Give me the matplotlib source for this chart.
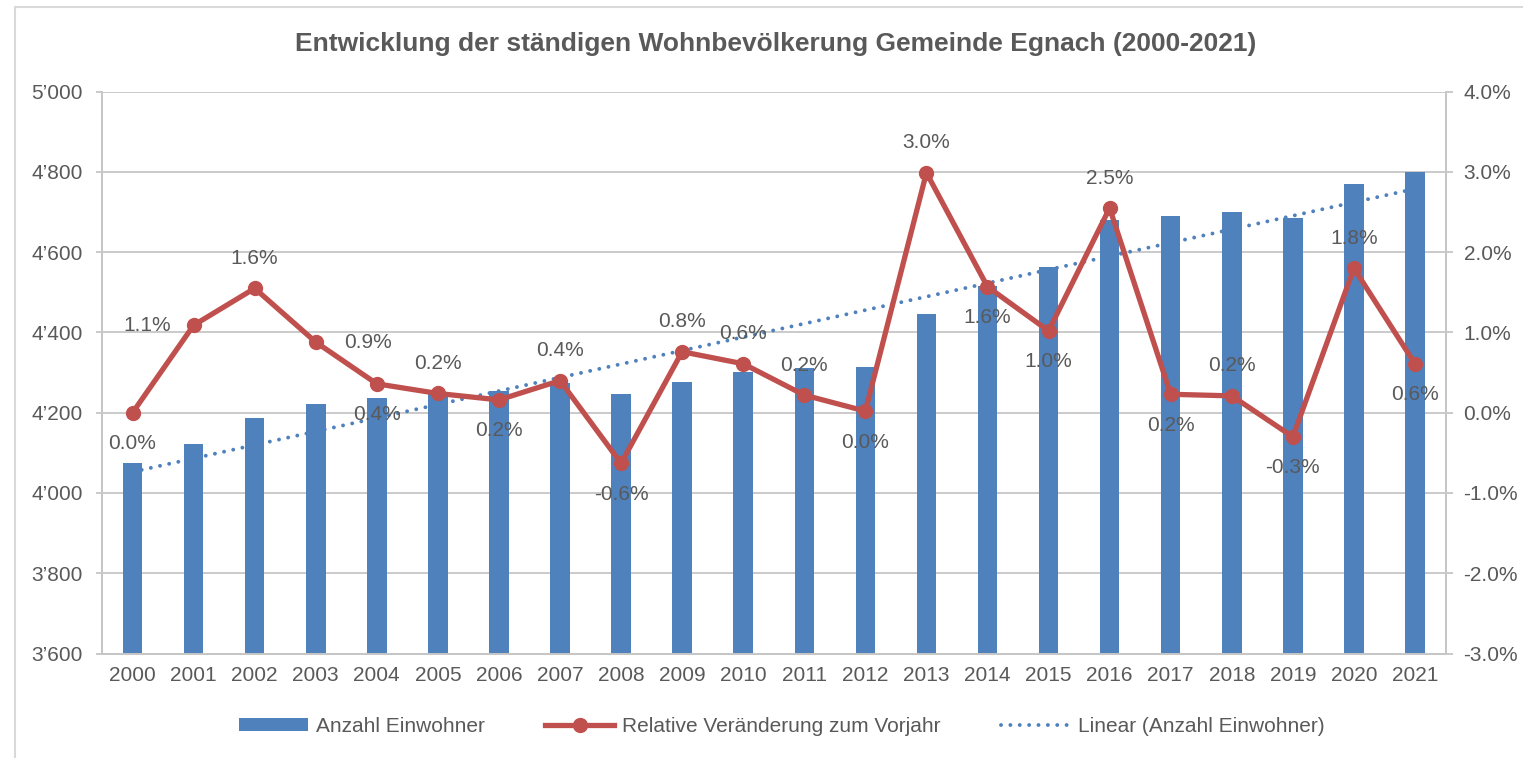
# Entwicklung der ständigen Wohnbevölkerung Gemeinde Egnach (2000-2021)

import numpy as np
import matplotlib
matplotlib.use("Agg")
import matplotlib.pyplot as plt
from matplotlib.ticker import FuncFormatter, MultipleLocator
from matplotlib.patches import Rectangle

plt.rcParams['font.family'] = ['Liberation Sans', 'DejaVu Sans']

# Daten
jahre = [2000, 2001, 2002, 2003, 2004, 2005, 2006, 2007, 2008, 2009, 2010,
         2011, 2012, 2013, 2014, 2015, 2016, 2017, 2018, 2019, 2020, 2021]
einwohner = [4075, 4121, 4186, 4222, 4237, 4248, 4253, 4273, 4246, 4277, 4302,
             4311, 4313, 4446, 4515, 4563, 4681, 4691, 4700, 4686, 4770, 4800]
veraenderung = [0.00, 1.09, 1.55, 0.88, 0.36, 0.24, 0.16, 0.40, -0.63, 0.76, 0.61,
                0.22, 0.02, 2.99, 1.57, 1.02, 2.55, 0.23, 0.21, -0.30, 1.80, 0.61]
# Position der Datenbeschriftung: a=oben, b=unten, l=links, r=rechts
label_pos = ['b', 'l', 'a', 'r', 'b', 'a', 'b', 'a', 'b', 'a', 'a',
             'a', 'b', 'a', 'b', 'b', 'a', 'b', 'a', 'b', 'a', 'b']

BLAU = '#4F81BD'
ROT = '#C0504D'
GRAU_TXT = '#595959'
GRAU_LIN = '#C6C6C6'

fig = plt.figure(figsize=(15.23, 7.58), dpi=100)
ax = fig.add_axes([102 / 1523, 1 - 653.5 / 758, 1343.5 / 1523, 561.8 / 758])
ax2 = ax.twinx()

# Rahmen um das Diagramm
fig.patches.append(Rectangle((15 / 1523, -0.1), 1.2, (758 - 7) / 758 + 0.1,
                             transform=fig.transFigure, fill=False,
                             edgecolor='#D9D9D9', linewidth=1.5))

x = np.arange(len(jahre))
bars = ax.bar(x, einwohner, width=0.32, color=BLAU, zorder=2,
              label='Anzahl Einwohner')

# lineare Trendlinie
k, d = np.polyfit(x, einwohner, 1)
trend, = ax.plot(x, k * x + d, color=BLAU, linestyle=(0, (0.01, 2.4)),
                 linewidth=2.8, dash_capstyle='round', zorder=3,
                 label='Linear (Anzahl Einwohner)')

ax.set_ylim(3600, 5000)
ax.set_xlim(-0.5, len(jahre) - 0.5)
ax.yaxis.set_major_locator(MultipleLocator(200))
ax.yaxis.set_major_formatter(FuncFormatter(lambda v, p: f"{int(v) // 1000}\u2019{int(v) % 1000:03d}"))
ax.set_xticks(x)
ax.set_xticklabels([str(j) for j in jahre])
ax.grid(axis='y', color=GRAU_LIN, linewidth=1.3, zorder=0)
ax.set_axisbelow(True)

line, = ax2.plot(x, veraenderung, color=ROT, linewidth=3.8, marker='o',
                 markersize=10, zorder=4, label='Relative Veränderung zum Vorjahr')
ax2.set_ylim(-3, 4)
ax2.yaxis.set_major_locator(MultipleLocator(1))
ax2.yaxis.set_major_formatter(FuncFormatter(lambda v, p: f"{v:.1f}%"))

for i, (v, pos) in enumerate(zip(veraenderung, label_pos)):
    off = {'a': (0, 30), 'b': (0, -31), 'l': (-46, 0), 'r': (52, 0)}[pos]
    ax2.annotate(f"{v:.1f}%", (x[i], v), xytext=off, textcoords='offset pixels',
                 ha='center', va='center', fontsize=15, color=GRAU_TXT, zorder=5)

for a in (ax, ax2):
    for s in a.spines.values():
        s.set_color(GRAU_LIN)
        s.set_linewidth(1.3)
    a.spines['top'].set_visible(False)
ax.tick_params(axis='y', length=4, width=1.3, color=GRAU_LIN, labelsize=15,
               labelcolor=GRAU_TXT, pad=10)
ax.tick_params(axis='x', length=0, labelsize=15, labelcolor=GRAU_TXT, pad=9)
ax2.tick_params(axis='y', length=5, width=1.3, color=GRAU_LIN, labelsize=15,
                labelcolor=GRAU_TXT, pad=8)

fig.text(0.5 * (290 + 1262) / 1523, 1 - 44 / 758,
         'Entwicklung der ständigen Wohnbevölkerung Gemeinde Egnach (2000-2021)',
         ha='center', va='center', fontsize=19, fontweight='bold', color=GRAU_TXT)

fig.legend([bars, line, trend],
           ['Anzahl Einwohner', 'Relative Veränderung zum Vorjahr', 'Linear (Anzahl Einwohner)'],
           loc='center', bbox_to_anchor=(782 / 1523, 1 - 726 / 758), ncol=3,
           frameon=False, fontsize=15, labelcolor=GRAU_TXT, handlelength=3.3,
           handleheight=0.6, handletextpad=0.4, columnspacing=2.9)

plt.savefig('out.png', dpi=100)
